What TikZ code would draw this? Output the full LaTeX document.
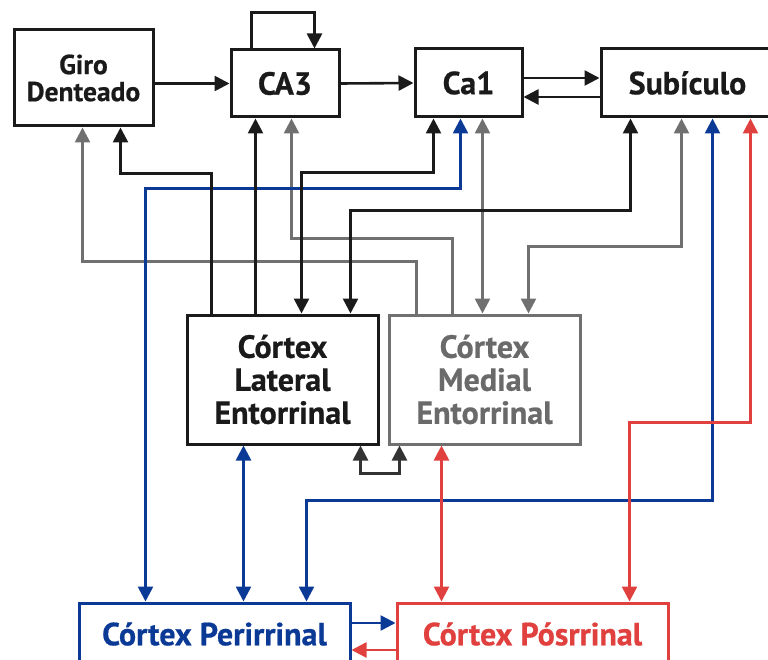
\documentclass[tikz,border=0pt]{standalone}
\usepackage{fontspec}
\setmainfont[BoldFeatures={FakeBold=0.6}]{PT Sans}
\usetikzlibrary{arrows.meta}

\definecolor{ink}{HTML}{1A1A1A}
\definecolor{greyln}{HTML}{707070}
\definecolor{greytx}{HTML}{6A6A6A}
\definecolor{bluln}{HTML}{0B3A96}
\definecolor{redln}{HTML}{E0403E}
\definecolor{darkln}{HTML}{333333}

\begin{document}
\begin{tikzpicture}[x=1pt,y=-1pt,
  box/.style={draw=ink, text=ink, line width=3pt, inner sep=0pt, align=center,
              font=\bfseries\fontsize{32}{33}\selectfont},
  ln/.style={line width=2.6pt},
  oneway/.style={-{Triangle[length=15pt,width=15pt]}},
  twoway/.style={{Triangle[length=15pt,width=15pt]}-{Triangle[length=15pt,width=15pt]}}]

\useasboundingbox (0,0) rectangle (768,660);
\clip (0,0) rectangle (768,660);

% boxes
\node[box, minimum width=139pt, minimum height=96pt,
      font=\bfseries\fontsize{27.5}{27}\selectfont] (gd) at (83.5,78) {Giro\\Denteado};
\node[box, minimum width=108pt, minimum height=67pt] (ca3) at (285,83.5) {CA3};
\node[box, minimum width=107pt, minimum height=68pt] (ca1) at (468.5,83) {Ca1};
\node[box, minimum width=173pt, minimum height=68pt] (sub) at (687.5,83) {Subículo};
\node[box, minimum width=191pt, minimum height=129pt] (lec) at (282.5,379.5) {Córtex\\Lateral\\Entorrinal};
\node[box, draw=greyln, text=greytx, minimum width=191pt, minimum height=129pt] (mec) at (484.5,379.5) {Córtex\\Medial\\Entorrinal};
\node[box, draw=bluln, text=bluln, minimum width=271pt, minimum height=62pt] (per) at (214.5,634) {Córtex Perirrinal};
\node[box, draw=redln, text=redln, minimum width=271pt, minimum height=62pt] (pos) at (532.5,634) {Córtex Pósrrinal};

% grey connections (medial entorhinal)
\draw[ln, greyln, oneway] ([xshift=65pt]mec.north west) -- ++(0,-75) -| ([xshift=62pt]ca3.south west);
\draw[ln, greyln, oneway] ([xshift=29pt]mec.north west) -- ++(0,-52) -| ([xshift=70pt]gd.south west);
\draw[ln, greyln, twoway] ([xshift=69pt]ca1.south west) -- ([xshift=95pt]mec.north west);
\draw[ln, greyln, twoway] ([xshift=141pt]mec.north west) -- ++(0,-67) -| ([xshift=82pt]sub.south west);

% blue connections (perirhinal)
\draw[ln, bluln, twoway] ([xshift=68pt]per.north west) -- ++(0,-413) -| ([xshift=47pt]ca1.south west);
\draw[ln, bluln, twoway] ([xshift=229pt]per.north west) -- ++(0,-101) -| ([xshift=113pt]sub.south west);
\draw[ln, bluln, twoway] ([xshift=58pt]lec.south west) -- ([xshift=166pt]per.north west);
\draw[ln, bluln, oneway] ([yshift=11pt]per.east) -- ([yshift=11pt]pos.west);

% black connections
\draw[ln, ink, oneway] (gd.east |- ca3.west) -- (ca3.west);
\draw[ln, ink, oneway] ([xshift=22pt]ca3.north west) -- ++(0,-36) -| ([xshift=85pt]ca3.north west);
\draw[ln, ink, oneway] (ca3.east) -- (ca1.west);
\draw[ln, ink, oneway] ([yshift=5pt]ca1.east) -- ([yshift=5pt]sub.west);
\draw[ln, ink, oneway] ([yshift=-14pt]sub.west) -- ([yshift=-14pt]ca1.east);
\draw[ln, ink, oneway] ([xshift=26pt]lec.north west) -- ++(0,-140) -| ([xshift=108pt]gd.south west);
\draw[ln, ink, oneway] ([xshift=70pt]lec.north west) -- ([xshift=26pt]ca3.south west);
\draw[ln, ink, twoway] ([xshift=116pt]lec.north west) -- ++(0,-141) -| ([xshift=20pt]ca1.south west);
\draw[ln, ink, twoway] ([xshift=165pt]lec.north west) -- ++(0,-103) -| ([xshift=31pt]sub.south west);

% red connections (postrhinal)
\draw[ln, redln, twoway] ([xshift=234pt]pos.north west) -- ++(0,-179) -| ([xshift=151pt]sub.south west);
\draw[ln, redln, twoway] ([xshift=54pt]mec.south west) -- ([xshift=46pt]pos.north west);
\draw[ln, redln, oneway] ([yshift=-16pt]pos.west) -- ([yshift=-16pt]per.east);

% lateral <-> medial entorhinal
\draw[ln, darkln, twoway] ([xshift=175pt]lec.south west) -- ++(0,28) -| ([xshift=12pt]mec.south west);
\end{tikzpicture}
\end{document}
